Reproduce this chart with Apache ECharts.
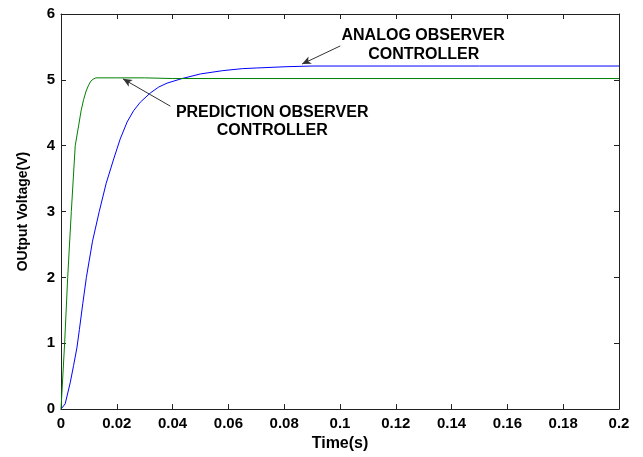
<!DOCTYPE html>
<html>
<head>
<meta charset="utf-8">
<script src="https://cdn.jsdelivr.net/npm/echarts@6/dist/echarts.min.js"></script>
<style>
  html, body { margin: 0; padding: 0; background: #fff; }
  #chart { width: 643px; height: 457px; }
</style>
</head>
<body>
<div id="chart"></div>
<script>
// values
const predTime = [0, 0.0013, 0.0024, 0.0037, 0.0051, 0.0063, 0.0072, 0.0081, 0.009, 0.0099, 0.0107, 0.0115, 0.0125, 0.02, 0.03, 0.04, 0.1, 0.2];
const predVolt = [0, 1, 2, 3, 4, 4.3, 4.53, 4.7, 4.83, 4.92, 4.98, 5.01, 5.03, 5.03, 5.03, 5.02, 5.02, 5.02];

const analogTime = [0, 0.0015, 0.0033, 0.0045, 0.0057, 0.0066, 0.0078, 0.0091, 0.0113, 0.0137, 0.0162, 0.0189, 0.0212, 0.0237, 0.026, 0.0284, 0.032, 0.035, 0.038, 0.0434, 0.05, 0.058, 0.065, 0.07, 0.081, 0.09, 0.1, 0.15, 0.2];
const analogVolt = [0, 0.08, 0.4, 0.66, 0.93, 1.21, 1.6, 2, 2.55, 3, 3.43, 3.8, 4.1, 4.36, 4.53, 4.66, 4.8, 4.89, 4.95, 5.02, 5.09, 5.14, 5.17, 5.18, 5.2, 5.21, 5.21, 5.21, 5.21];

// annotation arrows: [tail, tip] in data coords
const predArrow = [[0.0392, 4.6], [0.0222, 5.015]];
const analogArrow = [[0.1001, 5.515], [0.0864, 5.24]];
// annotation text lines: [text, t, v]  (centre of each line)
const predLabels = [['PREDICTION OBSERVER', 0.0757, 4.51], ['CONTROLLER', 0.0757, 4.225]];
const analogLabels = [['ANALOG OBSERVER', 0.1298, 5.674], ['CONTROLLER', 0.1300, 5.386]];

const chart = echarts.init(document.getElementById('chart'));
const fontFam = 'Liberation Sans, Arial, sans-serif';
const axisCol = '#222';

function pairs(xs, ys) {
  return xs.map((x, i) => [x, ys[i]]);
}

function arrowLine(a) {
  return [
    { coord: a[0], symbol: 'none' },
    { coord: a[1], symbol: 'arrow', symbolSize: [6, 9] }
  ];
}

const xBase = {
  type: 'value', min: 0, max: 0.2, interval: 0.02,
  axisLine: { show: true, onZero: false, lineStyle: { color: axisCol, width: 1 } },
  axisTick: { show: true, inside: true, length: 5, lineStyle: { color: axisCol } },
  splitLine: { show: false }
};
const yBase = {
  type: 'value', min: 0, max: 6, interval: 1,
  axisLine: { show: true, onZero: false, lineStyle: { color: axisCol, width: 1 } },
  axisTick: { show: true, inside: true, length: 5, lineStyle: { color: axisCol } },
  splitLine: { show: false }
};

const option = {
  animation: false,
  backgroundColor: '#fff',
  grid: { left: 61, right: 24, top: 14, bottom: 47, containLabel: false },
  xAxis: [
    Object.assign({}, xBase, {
      position: 'bottom',
      name: 'Time(s)', nameLocation: 'middle', nameGap: 26,
      nameTextStyle: { fontSize: 16, fontWeight: 'bold', color: '#000', fontFamily: fontFam },
      axisLabel: { margin: 7, fontSize: 15, fontWeight: 'bold', color: '#000', fontFamily: fontFam,
        formatter: v => String(+v.toFixed(2)) }
    }),
    Object.assign({}, xBase, { position: 'top', axisLabel: { show: false } })
  ],
  yAxis: [
    Object.assign({}, yBase, {
      position: 'left',
      name: 'OUtput Voltage(V)', nameLocation: 'middle', nameGap: 31,
      nameTextStyle: { fontSize: 14, fontWeight: 'bold', color: '#000', fontFamily: fontFam },
      axisLabel: { margin: 6, fontSize: 15, fontWeight: 'bold', color: '#000', fontFamily: fontFam }
    }),
    Object.assign({}, yBase, { position: 'right', axisLabel: { show: false } })
  ],
  series: [
    {
      name: 'Analog observer controller',
      type: 'line',
      data: pairs(analogTime, analogVolt),
      showSymbol: false,
      lineStyle: { color: '#0000ff', width: 1 },
      markLine: {
        silent: true,
        label: { show: false },
        lineStyle: { color: '#333', width: 1, type: 'solid' },
        data: [arrowLine(analogArrow)]
      }
    },
    {
      name: 'Prediction observer controller',
      type: 'line',
      data: pairs(predTime, predVolt),
      showSymbol: false,
      lineStyle: { color: '#008000', width: 1 },
      markLine: {
        silent: true,
        label: { show: false },
        lineStyle: { color: '#333', width: 1, type: 'solid' },
        data: [arrowLine(predArrow)]
      }
    }
  ]
};

chart.setOption(option);

// annotation texts placed from data coordinates
const texts = predLabels.concat(analogLabels).map(l => {
  const p = chart.convertToPixel({ gridIndex: 0 }, [l[1], l[2]]);
  return {
    type: 'text', x: p[0], y: p[1], silent: true,
    style: {
      text: l[0], align: 'center', verticalAlign: 'middle',
      fontSize: 16, fontWeight: 'bold', fill: '#000', fontFamily: fontFam
    }
  };
});
chart.setOption({ graphic: texts });
</script>
</body>
</html>
